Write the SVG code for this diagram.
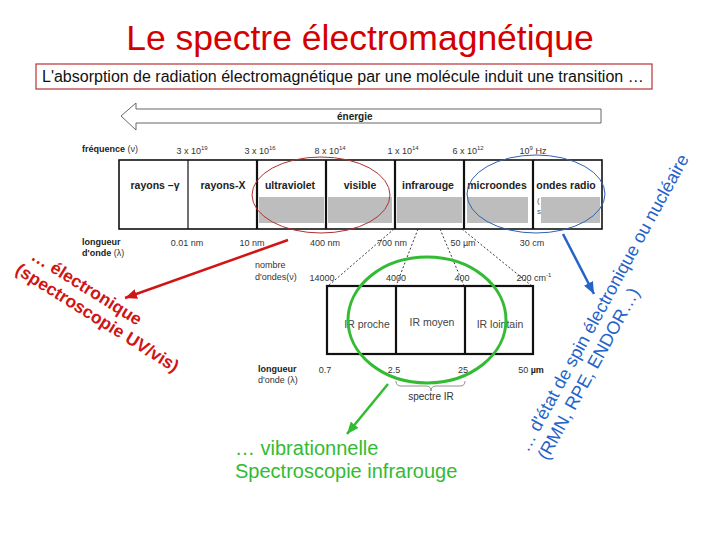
<svg xmlns="http://www.w3.org/2000/svg" width="720" height="540" viewBox="0 0 720 540">
<style>
text{font-family:"Liberation Sans",Arial,sans-serif}
.sm{font-size:9px;fill:#333}
.lbl{font-size:10.5px;font-weight:bold;fill:#222}
.ir{font-size:10.5px;fill:#444}
.b{font-weight:bold;fill:#222}
.cell{fill:none;stroke:#111;stroke-width:1.6}
.div{stroke:#111;stroke-width:2.2}
.thin{stroke:#111;stroke-width:1.2}
.bar{fill:#bdbdbd}
.dash{stroke:#222;stroke-width:0.9;stroke-dasharray:2 2;fill:none}
.mid{text-anchor:middle}
.sup{font-size:6px}
</style>
<defs>
<marker id="ahR" markerUnits="userSpaceOnUse" markerWidth="12" markerHeight="10" refX="12" refY="5" orient="auto"><path d="M0,0 L12,5 L0,10 z" fill="#d01515"/></marker>
<marker id="ahG" markerUnits="userSpaceOnUse" markerWidth="12" markerHeight="10" refX="12" refY="5" orient="auto"><path d="M0,0 L12,5 L0,10 z" fill="#33bb33"/></marker>
<marker id="ahB" markerUnits="userSpaceOnUse" markerWidth="12" markerHeight="10" refX="12" refY="5" orient="auto"><path d="M0,0 L12,5 L0,10 z" fill="#2563c9"/></marker>
</defs>
<rect width="720" height="540" fill="#fff"/>

<g id="title"><text x="360" y="50" class="mid" font-size="35.5" fill="#d40000">Le spectre électromagnétique</text></g>

<g id="header">
<rect x="36" y="64" width="616" height="25" fill="#fff" stroke="#b83232" stroke-width="1.2"/>
<text x="42" y="82" font-size="16" fill="#111">L'absorption de radiation électromagnétique par une molécule induit une transition …</text>
</g>

<g id="energy-arrow">
<path d="M121,116 L136,103 L136,109 L601,109 L601,123 L136,123 L136,130 Z" fill="#fff" stroke="#666" stroke-width="1"/>
<text x="337" y="120" font-size="10" class="b">énergie</text>
</g>

<g id="spectrum-table">
<text x="82" y="152" class="sm"><tspan class="b">fréquence</tspan> (ν)</text>
<text x="192" y="154" class="sm mid">3 x 10<tspan class="sup" dy="-4">19</tspan></text>
<text x="260" y="154" class="sm mid">3 x 10<tspan class="sup" dy="-4">16</tspan></text>
<text x="330" y="154" class="sm mid">8 x 10<tspan class="sup" dy="-4">14</tspan></text>
<text x="403" y="154" class="sm mid">1 x 10<tspan class="sup" dy="-4">14</tspan></text>
<text x="468" y="154" class="sm mid">6 x 10<tspan class="sup" dy="-4">12</tspan></text>
<text x="533" y="154" class="sm mid">10<tspan class="sup" dy="-4">9</tspan><tspan dy="4"> Hz</tspan></text>
<rect class="bar" x="259" y="197" width="65" height="26"/>
<rect class="bar" x="328" y="197" width="64" height="26"/>
<rect class="bar" x="397" y="197" width="65" height="26"/>
<rect class="bar" x="467" y="197" width="61" height="26"/>
<rect class="bar" x="541" y="197" width="59" height="26"/>
<rect class="cell" x="119" y="160" width="483" height="69"/>
<line class="thin" x1="188" y1="160" x2="188" y2="229"/>
<line class="div" x1="257" y1="160" x2="257" y2="229"/>
<line class="div" x1="326" y1="160" x2="326" y2="229"/>
<line class="div" x1="395" y1="160" x2="395" y2="229"/>
<line class="div" x1="464" y1="160" x2="464" y2="229"/>
<line class="div" x1="533" y1="160" x2="533" y2="229"/>
<text x="155" y="189" class="lbl mid">rayons –γ</text>
<text x="223" y="189" class="lbl mid">rayons-X</text>
<text x="290" y="189" class="lbl mid">ultraviolet</text>
<text x="360" y="189" class="lbl mid">visible</text>
<text x="428" y="189" class="lbl mid">infrarouge</text>
<text x="497" y="189" class="lbl mid">microondes</text>
<text x="566" y="189" class="lbl mid">ondes radio</text>
<text x="537" y="203" font-size="8" fill="#555">(</text>
<text x="537" y="214" font-size="8" fill="#555">s</text>
<text x="82" y="245" class="sm"><tspan class="b">longueur</tspan></text>
<text x="82" y="256" class="sm"><tspan class="b">d'onde</tspan> (λ)</text>
<text x="187" y="246" class="sm mid">0.01 nm</text>
<text x="252" y="246" class="sm mid">10 nm</text>
<text x="325" y="246" class="sm mid">400 nm</text>
<text x="392" y="246" class="sm mid">700 nm</text>
<text x="463" y="246" class="sm mid">50 µm</text>
<text x="532" y="246" class="sm mid">30 cm</text>
<text x="255" y="268" class="sm">nombre</text>
<text x="255" y="280" class="sm">d'ondes(ν)</text>
</g>

<g id="ir-table">
<line class="dash" x1="394" y1="229" x2="328" y2="286"/>
<line class="dash" x1="418" y1="229" x2="396" y2="286"/>
<line class="dash" x1="440" y1="229" x2="464" y2="286"/>
<line class="dash" x1="462" y1="229" x2="532" y2="286"/>
<text x="322" y="281" class="sm mid">14000</text>
<text x="396" y="281" class="sm mid">4000</text>
<text x="462" y="281" class="sm mid">400</text>
<text x="534" y="281" class="sm mid">200 cm<tspan class="sup" dy="-4">-1</tspan></text>
<rect x="327" y="286" width="206" height="68" fill="none" stroke="#111" stroke-width="2.2"/>
<line class="div" x1="396" y1="286" x2="396" y2="354"/>
<line class="div" x1="465" y1="286" x2="465" y2="354"/>
<text x="367" y="328" class="ir mid">IR proche</text>
<text x="432" y="326" class="ir mid">IR moyen</text>
<text x="500" y="328" class="ir mid">IR lointain</text>
<text x="258" y="372" class="sm"><tspan class="b">longueur</tspan></text>
<text x="258" y="383" class="sm">d'onde (λ)</text>
<text x="325" y="373" class="sm mid">0.7</text>
<text x="394" y="373" class="sm mid">2.5</text>
<text x="463" y="373" class="sm mid">25</text>
<text x="531" y="373" class="sm mid">50 <tspan class="b">µm</tspan></text>
<path d="M396,381 q0,5 5,5 h25 q5,0 5,5 q0,-5 5,-5 h24 q5,0 5,-5" fill="none" stroke="#777" stroke-width="0.8"/>
<text x="431" y="400" font-size="10" fill="#333" class="mid">spectre IR</text>
</g>

<g id="highlights">
<ellipse cx="321" cy="195" rx="69" ry="38" fill="none" stroke="#b03030" stroke-width="1"/>
<ellipse cx="536" cy="194" rx="69" ry="39" fill="none" stroke="#3060b0" stroke-width="1"/>
<ellipse cx="427" cy="320" rx="79" ry="63" fill="none" stroke="#33bb33" stroke-width="3"/>
</g>

<g id="connectors" fill="none" stroke-width="2.5">
<line x1="288" y1="240" x2="125" y2="298" stroke="#d01515" marker-end="url(#ahR)"/>
<line x1="388" y1="384" x2="347" y2="434" stroke="#33bb33" marker-end="url(#ahG)"/>
<line x1="563" y1="234" x2="594" y2="294" stroke="#2563c9" marker-end="url(#ahB)"/>
</g>

<g id="electronic-label" transform="translate(30,259) rotate(32)" font-size="17.5" font-weight="bold" fill="#d01515">
<text x="0" y="0">… électronique</text>
<text x="-6" y="20">(spectroscopie UV/vis)</text>
</g>

<g id="vibrational-label" font-size="20" fill="#33bb33">
<text x="235" y="455">… vibrationnelle</text>
<text x="235" y="478">Spectroscopie infrarouge</text>
</g>

<g id="spin-label" transform="translate(528,453) rotate(-61.3)" font-size="18" fill="#2563c9">
<text x="0" y="0">… d'état de spin électronique ou nucléaire</text>
<text x="2" y="21">(RMN, RPE, ENDOR…)</text>
</g>
</svg>
